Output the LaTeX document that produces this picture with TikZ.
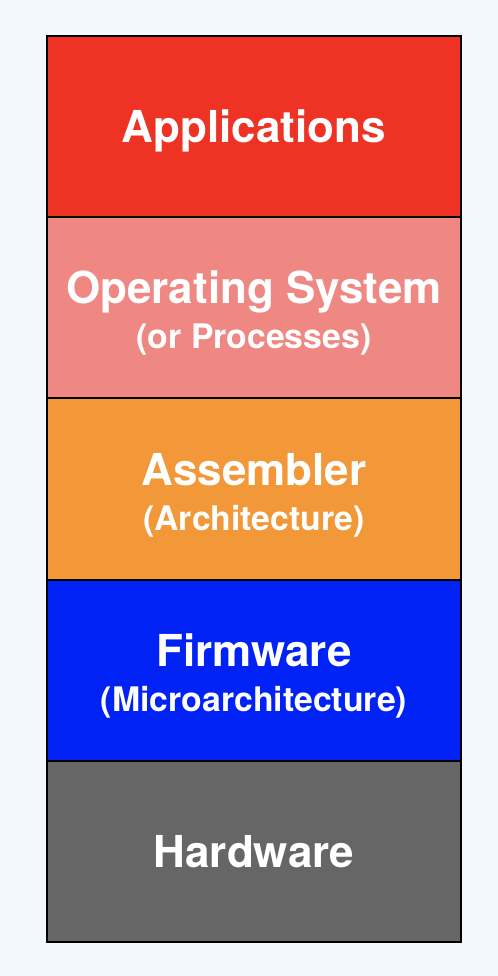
\documentclass[tikz,border=0pt]{standalone}
\usepackage{fontspec}
\setmainfont{TeX Gyre Heros}
\usetikzlibrary{calc}
\definecolor{bgc}{HTML}{F3F7FE}
\definecolor{appc}{HTML}{EE3324}
\definecolor{osc}{HTML}{EF8783}
\definecolor{asmc}{HTML}{F29838}
\definecolor{fwc}{HTML}{0022F5}
\definecolor{hwc}{HTML}{666666}
\tikzset{
  layer/.style={draw=black, line width=1pt, minimum width=207pt, minimum height=90.6pt, inner sep=0pt, outer sep=0pt},
  maintxt/.style={text=white, font=\bfseries\fontsize{22}{24}\selectfont, inner sep=0pt},
  subtxt/.style={text=white, font=\bfseries\fontsize{16.9}{19}\selectfont, inner sep=0pt}
}
\begin{document}
\begin{tikzpicture}[x=0.5pt,y=-0.5pt]
\fill[bgc] (0,0) rectangle (498,976);
\useasboundingbox (0,0) rectangle (498,976);
\node[layer, fill=appc] (b1) at (254,126.6) {};
\node[layer, fill=osc]  (b2) at (254,307.8) {};
\node[layer, fill=asmc] (b3) at (254,489) {};
\node[layer, fill=fwc]  (b4) at (254,670.2) {};
\node[layer, fill=hwc]  (b5) at (254,851.4) {};
\node[maintxt, anchor=base] (t1) at ($(b1.center)+(0,16)$) {Applications};
\node[maintxt, anchor=base] (t2) at ($(b2.center)+(0,-4)$) {Operating System};
\node[subtxt, anchor=base] (s2) at ($(b2.center)+(0,41)$) {(or Processes)};
\node[maintxt, anchor=base] (t3) at ($(b3.center)+(0,-4)$) {Assembler};
\node[subtxt, anchor=base] (s3) at ($(b3.center)+(0,41)$) {(Architecture)};
\node[maintxt, anchor=base] (t4) at ($(b4.center)+(0,-4)$) {Firmware};
\node[subtxt, anchor=base] (s4) at ($(b4.center)+(0,41)$) {(Microarchitecture)};
\node[maintxt, anchor=base] (t5) at ($(b5.center)+(0,16)$) {Hardware};
\end{tikzpicture}
\end{document}
